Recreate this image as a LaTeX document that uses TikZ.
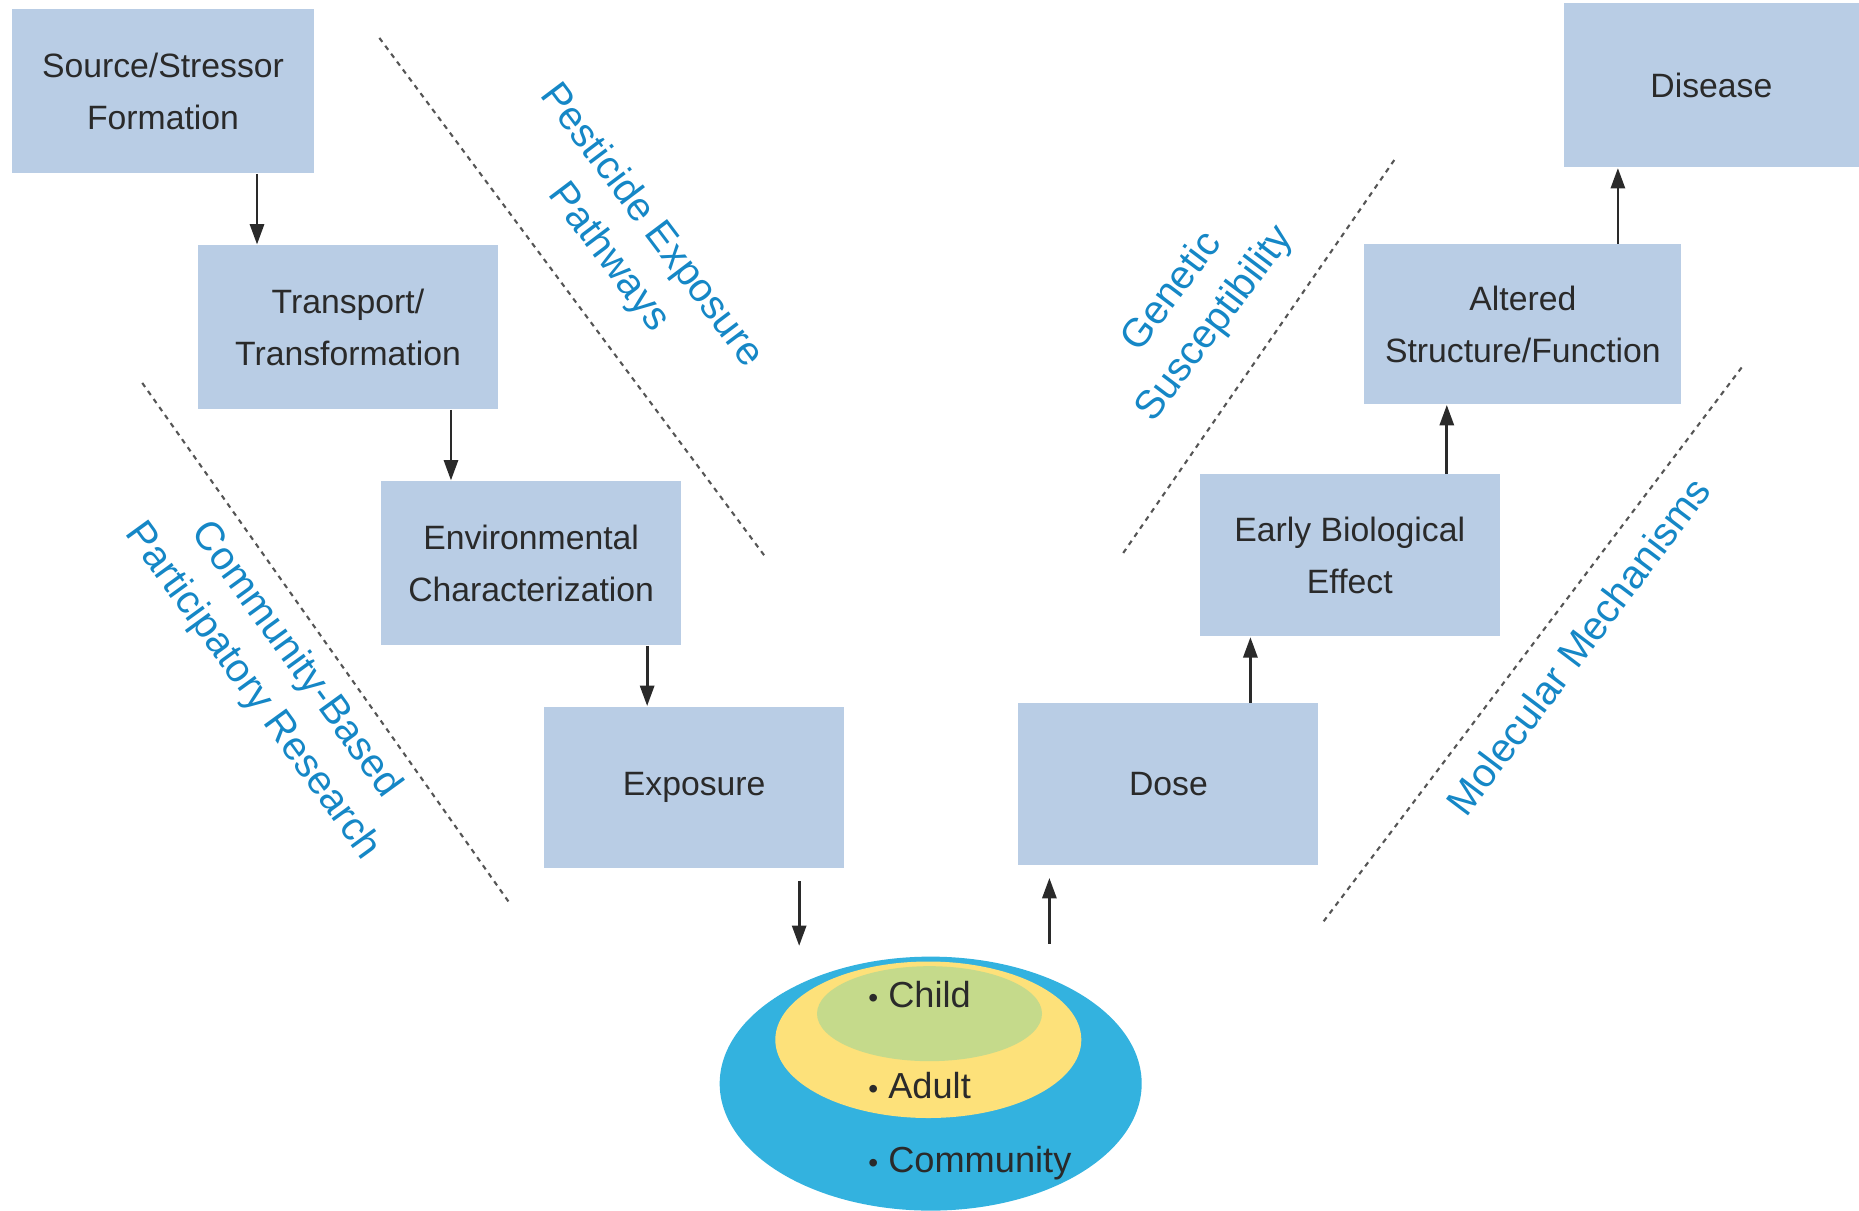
\documentclass[tikz,border=0pt]{standalone}
\usepackage{fontspec}
\setsansfont{Liberation Sans}
\usetikzlibrary{arrows.meta,shapes,positioning,calc}
\definecolor{boxblue}{HTML}{B9CDE5}
\definecolor{labelblue}{HTML}{1587C6}
\definecolor{popblue}{HTML}{33B2DF}
\definecolor{popyellow}{HTML}{FDE17A}
\definecolor{popgreen}{HTML}{C5DA8B}
\definecolor{inkgray}{HTML}{2A2A2A}
\tikzset{
	stage/.style={rectangle,
		fill=boxblue,
		minimum width=3cm,
		minimum height=1.64cm,
		align=center,
		text=inkgray,
		font=\sffamily\fontsize{9.6}{14.8}\selectfont
		},
	theme/.style={
		text=labelblue,
		align=center,
		font=\sffamily\fontsize{11.4}{15.2}\selectfont
		},
	group/.style={ellipse,
		inner sep=0pt,
		},
	member/.style={anchor=west,
		text=inkgray,
		font=\sffamily\fontsize{10.3}{13}\selectfont
		},
	flow/.style={draw=inkgray, line width=0.8pt, -{Triangle[length=5.8pt,width=4pt]}},
	divider/.style={draw=inkgray!80, line width=0.6pt, dash pattern=on 1.4pt off 1.4pt},
	every node/.style={font=\sffamily}
}
\newcommand{\dotmark}{{\fontsize{8}{8}\selectfont\textbullet}\ }

\begin{document}
\begin{tikzpicture}[x=0.011856cm, y=-0.011856cm]
	\useasboundingbox (0,0) rectangle (1568,1021);
	
	% exposure side
	\node[stage, minimum width=3.02cm] (source) at (137.5,77) {Source/Stressor\\Formation};
	\node[stage] (transport) at (293.5,276) {Transport/\\Transformation};
	\node[stage] (envchar) at (448,475) {Environmental\\Characterization};
	\node[stage, minimum height=1.61cm] (exposure) at (585.5,664) {Exposure};
	
	% effect side
	\node[stage, minimum height=1.62cm] (dose) at (985.5,661.5) {Dose};
	\node[stage, minimum height=1.62cm] (early) at (1138.5,468.5) {Early Biological\\Effect};
	\node[stage, minimum width=3.17cm, minimum height=1.6cm] (altered) at (1284.5,273.5) {Altered\\Structure/Function\hspace{0.2cm}};
	\node[stage, minimum width=2.95cm] (disease) at (1443.5,72) {Disease};
	
	% population
	\node[group, fill=popblue, minimum width=4.22cm, minimum height=2.54cm] (community) at (785,914) {};
	\node[group, fill=popyellow, minimum width=3.06cm, minimum height=1.565cm] (adult) at (783,877) {};
	\node[group, fill=popgreen, minimum width=2.25cm, minimum height=0.95cm] (child) at (784,855) {};
	\node[member] (childtext) at (722,839) {\dotmark Child};
	\node[member] (adulttext) at (722,916) {\dotmark Adult};
	\node[member] (communitytext) at (722,981) {\dotmark Community};
	
	\draw[flow] ([xshift=0.94cm]source.south) -- ([xshift=0.94cm]source.south |- transport.north);
	\draw[flow] ([xshift=1.03cm]transport.south) -- ([xshift=1.03cm]transport.south |- envchar.north);
	\draw[flow] ([xshift=1.16cm]envchar.south) -- ([xshift=1.16cm]envchar.south |- exposure.north);
	\draw[flow, shorten <=0.13cm, shorten >=0.1cm] ([xshift=1.05cm]exposure.south) -- ([xshift=1.05cm]exposure.south |- community.north);
	\draw[flow, shorten <=0.12cm, shorten >=0.12cm] ([xshift=-1.19cm]dose.south |- community.north) -- ([xshift=-1.19cm]dose.south);
	\draw[flow] ([xshift=0.82cm]dose.north) -- ([xshift=0.82cm]dose.north |- early.south);
	\draw[flow] ([xshift=0.97cm]early.north) -- ([xshift=0.97cm]early.north |- altered.south);
	\draw[flow] ([xshift=0.95cm]altered.north) -- ([xshift=0.95cm]altered.north |- disease.south);
	
	\draw[divider] (320,32) -- (645,469);
	\draw[divider] (120,323) -- (430,762);
	\draw[divider] (1176,135) -- (947,467);
	\draw[divider] (1469,310) -- (1115,779);
	
	\node[theme, rotate=-53] (pathways) at (531,204) {Pesticide Exposure\\Pathways};
	\node[theme, rotate=-54] (cbpr) at (231,570) {Community-Based\\Participatory Research};
	\node[theme, rotate=53] (genetic) at (1007,260) {Genetic\\Susceptibility};
	\node[theme, rotate=53] (molecular) at (1331,545) {Molecular Mechanisms};
\end{tikzpicture}
\end{document}
